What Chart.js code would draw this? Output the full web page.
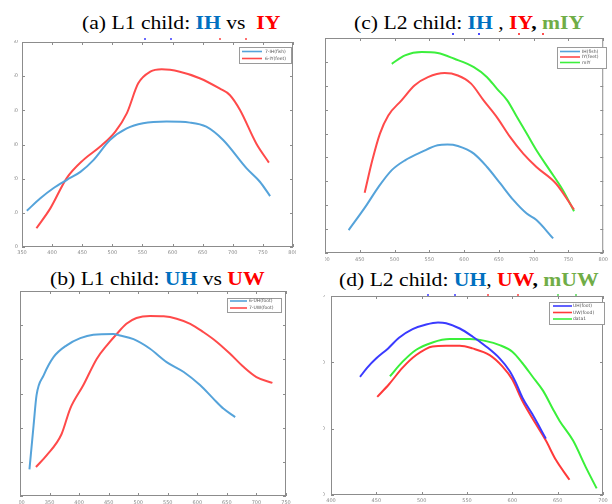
<!DOCTYPE html>
<html>
<head>
<meta charset="utf-8">
<script src="https://cdn.jsdelivr.net/npm/chart.js@4"></script>
<style>
html,body{margin:0;padding:0;background:#fff;}
body{width:612px;height:504px;position:relative;overflow:hidden;}
.clip{position:absolute;overflow:hidden;}
.clip canvas{position:absolute;}
.ttl{position:absolute;font-family:"Liberation Serif","Times New Roman",serif;font-size:18.5px;line-height:18px;white-space:pre;color:#000;transform:scaleX(1.17);transform-origin:0 0;}
.ttl b{font-weight:bold;}
.dot{position:absolute;width:2px;height:2px;}
</style>
</head>
<body>
<div class="ttl" style="left:82px;top:14px">(a) L1 child: <b style="color:#0070c0">IH</b> vs  <b style="color:#ff0000">IY</b></div>
<div class="ttl" style="left:354px;top:14px">(c) L2 child: <b style="color:#0070c0">IH</b> , <b style="color:#ff0000">IY</b><b>,</b> <b style="color:#70ad47">mIY</b></div>
<div class="ttl" style="left:50px;top:270px">(b) L1 child: <b style="color:#0070c0">UH</b> vs <b style="color:#ff0000">UW</b></div>
<div class="ttl" style="left:339px;top:271px">(d) L2 child: <b style="color:#0070c0">UH</b>, <b style="color:#ff0000">UW</b><b>,</b> <b style="color:#70ad47">mUW</b></div>

<!-- 标题下的小色点（原图残留） -->
<div class="dot" style="left:144px;top:38px;background:#6b6bff"></div>
<div class="dot" style="left:170px;top:38px;background:#6b6bff"></div>
<div class="dot" style="left:219px;top:38px;background:#ff7070"></div>
<div class="dot" style="left:245px;top:38px;background:#ff7070"></div>
<div class="dot" style="left:452px;top:33px;background:#4a4aff"></div>
<div class="dot" style="left:478px;top:33px;background:#4a4aff"></div>
<div class="dot" style="left:518px;top:33px;background:#ff5050"></div>
<div class="dot" style="left:542px;top:33px;background:#ff5050"></div>
<div class="dot" style="left:427px;top:294px;background:#6b6bff"></div>
<div class="dot" style="left:454px;top:294px;background:#6b6bff"></div>
<div class="dot" style="left:487px;top:294px;background:#ff7070"></div>
<div class="dot" style="left:517px;top:294px;background:#ff7070"></div>
<div class="dot" style="left:557px;top:294px;background:#80e080"></div>
<div class="dot" style="left:575px;top:294px;background:#80e080"></div>

<div class="clip" style="left:13px;top:40px;width:283px;height:220px"><canvas id="ca" width="612" height="504"></canvas></div>
<div class="clip" style="left:325px;top:36px;width:284px;height:227px"><canvas id="cc" width="612" height="504"></canvas></div>
<div class="clip" style="left:19px;top:289px;width:281px;height:215px"><canvas id="cb" width="612" height="504"></canvas></div>
<div class="clip" style="left:321px;top:295px;width:291px;height:209px"><canvas id="cd" width="612" height="504"></canvas></div>

<script>
// ---- 数据 ----
const a_xTicks = [350,400,450,500,550,600,650,700,750,800];
const a_yTicks = [0,10,20,30,40,50,60];
const a_IH = [[358,10.6],[380,14.2],[402,17.2],[424,19.6],[447,22],[469,25.5],[496,31.3],[524,34.7],[551,36.2],[590,36.7],[629,36.4],[656,35.2],[684,31.3],[723,23],[745,19.1],[762,14.9]];
const a_IY = [[374,5.5],[397,11.3],[424,20.1],[452,25.5],[480,29.4],[505,33.8],[524,39.1],[543,47.9],[563,51.3],[582,52],[612,51.3],[645,49.4],[678,46.4],[695,44.5],[712,40.1],[739,30.3],[760,24.7]];

const b_xTicks = [300,350,400,450,500,550,600,650,700,750];
const b_yTicks = [0,10,20,30,40,50,60];
const b_UH = [[316,7.8],[323,20.7],[328,29.5],[340,35.3],[357,40.7],[379,44.1],[402,46.2],[424,47.2],[458,47.4],[469,47],[492,45.9],[520,43.1],[548,39.2],[577,36.3],[605,32.4],[627,28.5],[644,25.6],[664,23.1]];
const b_UW = [[327,8.5],[345,11.9],[370,18],[385,25.6],[407,32.4],[430,40.2],[447,44.1],[464,47.5],[480,50.4],[497,52.1],[520,52.7],[543,52.6],[565,51.9],[588,50.4],[610,48],[633,45.1],[655,41.7],[678,37.8],[700,34.8],[727,33.1]];

const c_xTicks = [400,450,500,550,600,650,700,750,800];
const c_yTicks = [0,10,20,30,40,50,60,70,80,90];
const c_IH = [[434,9.6],[458,19.3],[477,27.7],[496,34.7],[515,38.8],[539,42.3],[562,45.1],[576,45.4],[591,44.8],[614,41.6],[633,36],[652,29.1],[671,22.1],[690,16.5],[704,13.8],[728,6.1]];
const c_IY = [[457,25.2],[468,38.8],[479,50],[491,57.6],[510,63.9],[529,70.2],[548,73.6],[572,75.3],[591,74.3],[610,70.9],[628,63.9],[647,56.9],[666,48.6],[685,41.6],[704,36],[732,29.1],[758,18.2]];
const c_mIY = [[496,79.2],[515,82.7],[539,84.1],[562,83.7],[586,81.3],[614,77.8],[633,73.6],[647,68.8],[662,63.9],[676,56.9],[690,50],[704,43],[723,34.7],[742,26.3],[758,17.5]];

const d_xTicks = [400,450,500,550,600,650,700];
const d_yTicks = [0,10,20,30];
const d_UH = [[432,17.8],[440,19.2],[450,20.6],[463,22.1],[475,23.7],[490,25],[505,25.7],[518,26],[527,25.9],[542,25.1],[556,23.9],[571,22.4],[586,20.6],[597,18.7],[604,16.9],[611,14.7],[622,12.2],[637,8.5]];
const d_UW = [[451,14.8],[464,16.7],[479,19.2],[494,21.1],[512,22.4],[527,22.5],[542,22.5],[556,22.1],[575,21.1],[589,19.4],[600,17.4],[611,14.2],[626,10.7],[637,8.2],[648,5.3],[663,2.3]];
const d_data1 = [[465,17.9],[479,20.1],[494,21.9],[512,23],[531,23.5],[553,23.5],[571,23.2],[586,22.6],[600,21.6],[611,19.9],[622,17.9],[634,15.7],[645,12.9],[652,11.2],[667,8.2],[681,4.2],[693,1]];

// ---- 画框、内刻度、图例 ----
const boxPlugin = {
  id:'box',
  beforeDatasetsDraw(c){
    const {ctx, chartArea:{left,right,top,bottom}} = c;
    ctx.save();
    ctx.strokeStyle = '#8c8c8c'; ctx.lineWidth = 1;
    ctx.strokeRect(left+.5, top+.5, right-left-1, bottom-top-1);
    ctx.beginPath();
    c.scales.x.ticks.forEach(t=>{
      const p = Math.round(c.scales.x.getPixelForValue(t.value))+.5;
      ctx.moveTo(p,bottom); ctx.lineTo(p,bottom-3);
      ctx.moveTo(p,top); ctx.lineTo(p,top+3);
    });
    c.scales.y.ticks.forEach(t=>{
      const p = Math.round(c.scales.y.getPixelForValue(t.value))+.5;
      ctx.moveTo(left,p); ctx.lineTo(left+3,p);
      ctx.moveTo(right,p); ctx.lineTo(right-3,p);
    });
    ctx.stroke();
    ctx.restore();
  },
  afterDraw(c, args, o){
    const L = o.legend; if(!L) return;
    const {ctx} = c;
    ctx.save();
    ctx.fillStyle = '#fff'; ctx.fillRect(L.x, L.y, L.w, L.h);
    ctx.strokeStyle = '#9a9a9a'; ctx.lineWidth = 1;
    ctx.strokeRect(L.x+.5, L.y+.5, L.w, L.h);
    ctx.font = '4.5px "DejaVu Sans"'; ctx.textBaseline = 'middle'; ctx.fillStyle = '#555';
    c.data.datasets.forEach((ds,i)=>{
      const yy = L.rows[i];
      ctx.strokeStyle = ds.borderColor; ctx.lineWidth = 1.6;
      ctx.beginPath(); ctx.moveTo(L.l1, yy); ctx.lineTo(L.l2, yy); ctx.stroke();
      ctx.fillText(ds.label, L.tx, yy);
    });
    ctx.restore();
  }
};

function panel(id, box, xr, yr, xTicks, yTicks, series, legend, yPad, xPad){
  const cvs = document.getElementById(id), wrap = cvs.parentNode;
  cvs.style.left = (-wrap.offsetLeft) + 'px';
  cvs.style.top = (-wrap.offsetTop) + 'px';
  const XH = Math.min(8, 504 - box.b), YW = 8;
  return new Chart(cvs, {
    type:'line',
    data:{datasets: series.map(s=>({
      label:s.label, data:s.data.map(([x,y])=>({x,y})),
      borderColor:s.color, borderWidth:2, pointRadius:0,
      cubicInterpolationMode:'monotone', fill:false
    }))},
    options:{
      responsive:false, animation:false, events:[],
      layout:{padding:{left:box.l-YW, top:box.t, right:612-box.r, bottom:504-box.b-XH}},
      plugins:{legend:{display:false}, tooltip:{enabled:false}, box:{legend}},
      scales:{
        x:{type:'linear', min:xr[0], max:xr[1],
           afterBuildTicks:s=>{s.ticks = xTicks.map(v=>({value:v}));},
           afterFit:s=>{s.height = XH;},
           grid:{display:false, drawTicks:false}, border:{display:false},
           ticks:{font:{size:5, family:'DejaVu Sans'}, color:'#888', padding:xPad, maxRotation:0, autoSkip:false}},
        y:{type:'linear', min:yr[0], max:yr[1],
           afterBuildTicks:s=>{s.ticks = yTicks.map(v=>({value:v}));},
           afterFit:s=>{s.width = YW;},
           grid:{display:false, drawTicks:false}, border:{display:false},
           ticks:{font:{size:5, family:'DejaVu Sans'}, color:'#888', padding:yPad, autoSkip:false}}
      }
    },
    plugins:[boxPlugin]
  });
}

const BL = '#55a3da', RD = '#ff4a4a', GN = '#3cef3c';

panel('ca', {l:22, t:42, r:293, b:247}, [350,800], [0,60], a_xTicks, a_yTicks,
  [{label:'7-IH(fish)', data:a_IH, color:BL}, {label:'6-IY(feet)', data:a_IY, color:RD}],
  {x:239, y:47, w:52, h:16, l1:242, l2:262, tx:265, rows:[51.5,58.5]}, 4, 3);

panel('cc', {l:325, t:38, r:607, b:253}, [400,800], [0,90], c_xTicks, c_yTicks,
  [{label:'IH(fish)', data:c_IH, color:BL}, {label:'IY(feet)', data:c_IY, color:RD}, {label:'mIY', data:c_mIY, color:GN}],
  {x:557, y:47, w:49, h:21, l1:560, l2:580, tx:582, rows:[51.5,57,62.5]}, 4, 4);

panel('cb', {l:20, t:291, r:286, b:496}, [300,750], [0,60], b_xTicks, b_yTicks,
  [{label:'6-UH(foot)', data:b_UH, color:BL}, {label:'7-UW(foot)', data:b_UW, color:RD}],
  {x:227, y:298, w:54, h:14, l1:230, l2:247, tx:249, rows:[301,308]}, 4, 4);

panel('cd', {l:331, t:296, r:603, b:497}, [400,700], [0,30], d_xTicks, d_yTicks,
  [{label:'UH(foot)', data:d_UH, color:'#3a3aff'}, {label:'UW(food)', data:d_UW, color:'#ff3a3a'}, {label:'data1', data:d_data1, color:'#3af03a'}],
  {x:549, y:302, w:55, h:22, l1:553, l2:572, tx:573, rows:[306,312.5,319]}, 6, 3);
</script>
</body>
</html>
